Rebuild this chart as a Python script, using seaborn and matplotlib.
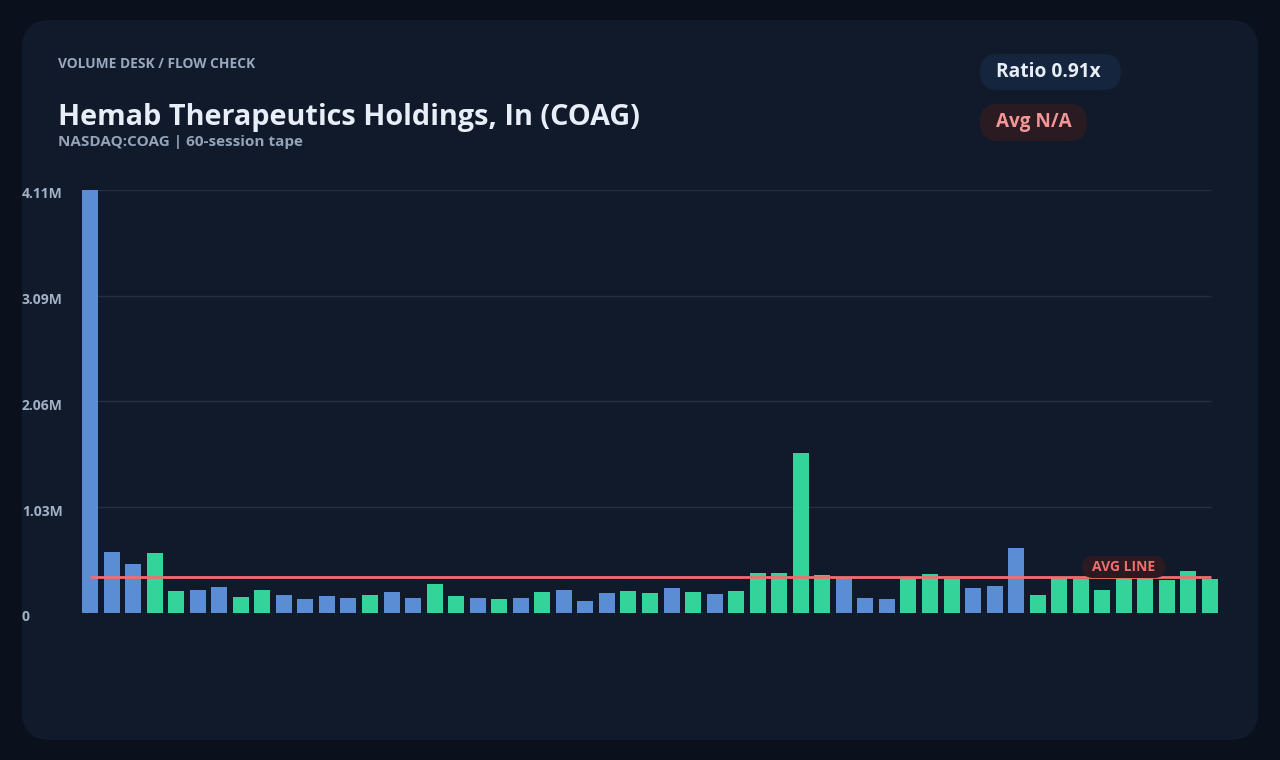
import matplotlib
matplotlib.use("Agg")
import matplotlib.pyplot as plt
import matplotlib.transforms as mtransforms
from matplotlib.patches import FancyBboxPatch
import seaborn as sns

# session volumes in millions, oldest first
vol_m = [4.11, 0.59, 0.473, 0.58, 0.211, 0.22, 0.25, 0.153, 0.22, 0.172,
         0.133, 0.162, 0.143, 0.172, 0.201, 0.143, 0.279, 0.162, 0.143, 0.133,
         0.143, 0.201, 0.22, 0.114, 0.191, 0.211, 0.191, 0.24, 0.201, 0.182,
         0.211, 0.386, 0.386, 1.552, 0.366, 0.34, 0.143, 0.133, 0.34, 0.376,
         0.33, 0.24, 0.26, 0.63, 0.172, 0.34, 0.33, 0.22, 0.34, 0.34,
         0.32, 0.405, 0.33]
# up / down session (colour of each bar)
direction = ["down", "down", "down", "up", "up", "down", "down", "up", "up", "down",
             "down", "down", "down", "up", "down", "down", "up", "up", "down", "up",
             "down", "up", "down", "down", "down", "up", "up", "down", "up", "down",
             "up", "up", "up", "up", "up", "down", "down", "down", "up", "up",
             "up", "down", "down", "down", "up", "up", "up", "up", "up", "up",
             "up", "up", "up"]
sessions = [str(i + 1) for i in range(len(vol_m))]
avg_line = 0.347
tick_labels = ["0", "1.03M", "2.06M", "3.09M", "4.11M"]

# colours
outer_bg = "#0a111d"
card_bg = "#111a2b"
blue = "#5b8dd5"
green = "#34d399"
red = "#f26d6d"
grid_c = "#243042"
muted = "#94a3b8"

sns.set_theme(style="dark")
plt.rcParams["font.family"] = ["Open Sans", "DejaVu Sans"]
plt.rcParams["font.weight"] = "bold"

W, H = 1280, 760
fig = plt.figure(figsize=(W / 100, H / 100), dpi=100, facecolor=outer_bg)

# background layer in pixel coordinates
bg = fig.add_axes([0, 0, 1, 1], zorder=0)
bg.set_xlim(0, W)
bg.set_ylim(H, 0)
bg.axis("off")
bg.add_patch(FancyBboxPatch((22, 20), 1236, 720, boxstyle="round,pad=0,rounding_size=28",
                            fc=card_bg, ec="none"))

# header texts
bg.text(58, 68, "VOLUME DESK / FLOW CHECK", color="#9aa8bd", fontsize=9.9,
        fontweight="bold", va="baseline")
bg.text(58, 125, "Hemab Therapeutics Holdings, In (COAG)", color="#e8eef8",
        fontsize=20.8, fontweight="bold", va="baseline")
bg.text(58, 146, "NASDAQ:COAG | 60-session tape", color=muted, fontsize=11,
        fontweight="bold", va="baseline")

# badges top right
bg.add_patch(FancyBboxPatch((980, 54), 141, 36, boxstyle="round,pad=0,rounding_size=18",
                            fc="#15253d", ec="none"))
bg.text(996, 72, "Ratio 0.91x", color="#e8eef8", fontsize=13.8,
        fontweight="bold", ha="left", va="center")
bg.add_patch(FancyBboxPatch((980, 104), 107, 37, boxstyle="round,pad=0,rounding_size=18",
                            fc="#2a1a21", ec="none"))
bg.text(996, 122.5, "Avg N/A", color="#f59595", fontsize=13.6,
        fontweight="bold", ha="left", va="center")

# chart axes
bar_w = 0.743
x0, x1 = 82, 1218
y_top, y_base = 190, 612.7
ax = fig.add_axes([x0 / W, (H - y_base) / H, (x1 - x0) / W, (y_base - y_top) / H], zorder=1)
ax.set_facecolor("none")

sns.barplot(x=sessions, y=vol_m, hue=direction, palette={"up": green, "down": blue},
            dodge=False, width=bar_w, saturation=1, legend=False, linewidth=0, ax=ax, zorder=2)

vmax = max(vol_m)
ticks = [vmax * k / 4 for k in range(5)]
n = len(vol_m)
ax.set_xlim(-bar_w / 2, n - 1 + bar_w / 2)
ax.set_ylim(0, vmax)
ax.hlines(ticks, -bar_w / 2, n - 0.95, color=grid_c, lw=1, zorder=0.5)

# average line + pill label sitting on it (pill sized in inches from the anchor)
ax.hlines(avg_line, 0, n - 0.95, color=red, lw=2, zorder=3)
pill_tr = fig.dpi_scale_trans + mtransforms.ScaledTranslation(n - 5, avg_line, ax.transData)
ax.add_patch(FancyBboxPatch((-0.415, -0.01), 0.83, 0.22,
                            boxstyle="round,pad=0,rounding_size=0.105",
                            fc="#2b1a22", ec="none", transform=pill_tr, zorder=4, clip_on=False))
ax.text(0, 0.105, "AVG LINE", transform=pill_tr, ha="center", va="center", color=red,
        fontsize=10, fontweight="bold", zorder=5)

# axis cosmetics
ax.set_xticks([])
ax.set_yticks(ticks, tick_labels)
ax.tick_params(axis="y", length=0, pad=43.2, labelsize=10, labelcolor="#a3b1c6")
offset = mtransforms.ScaledTranslation(0, -3 / 100, fig.dpi_scale_trans)
for lbl in ax.get_yticklabels():
    lbl.set_horizontalalignment("left")
    lbl.set_fontweight("bold")
    lbl.set_transform(lbl.get_transform() + offset)
ax.set_xlabel("")
ax.set_ylabel("")
ax.grid(False)
for s in ax.spines.values():
    s.set_visible(False)

fig.savefig("out.png", dpi=100, facecolor=outer_bg)
